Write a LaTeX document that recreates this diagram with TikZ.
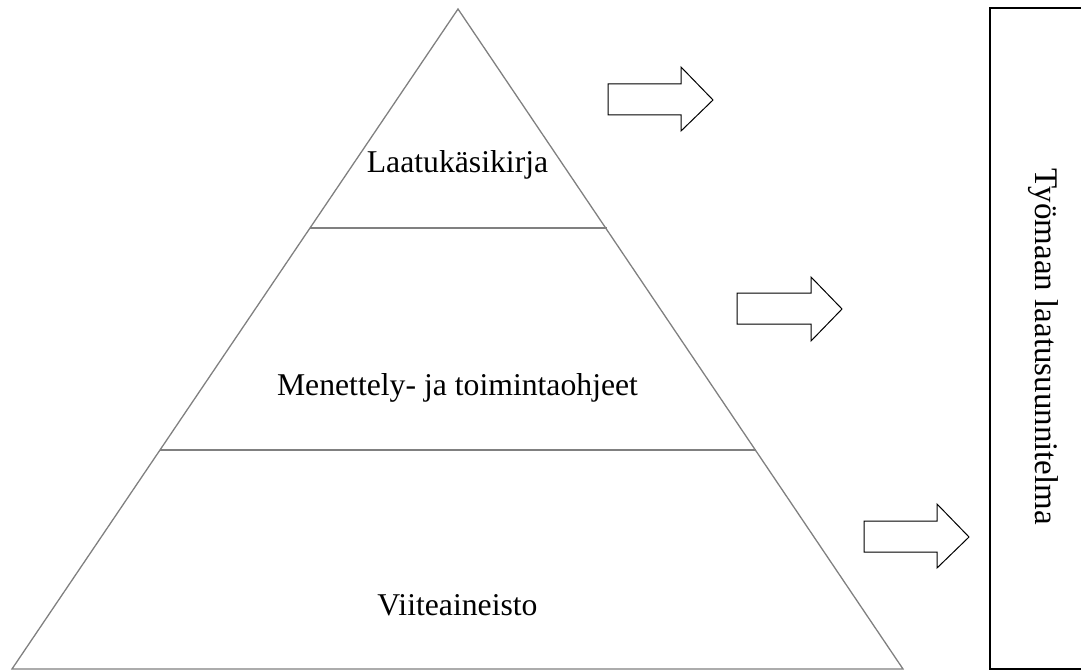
\documentclass[tikz,border=0pt]{standalone}
\usepackage{fontspec}
\setmainfont{Liberation Serif}
\begin{document}
\begin{tikzpicture}[x=1pt,y=-1pt,
  pyr/.style={draw=black!50,line width=1.3pt,line join=miter},
  sep/.style={draw=black!50,line width=1.3pt},
  blockarrow/.style={draw=black,line width=1pt,fill=white,line join=miter},
  lbl/.style={font=\fontsize{31.7}{36}\selectfont,anchor=base,inner sep=0pt},
  planbox/.style={draw=black,line width=2pt}]
\useasboundingbox (0,0) rectangle (1081,671);
\clip (0,0) rectangle (1081,671);
% pyramid
\coordinate (apex) at (458,9);
\coordinate (bl) at (12,669);
\coordinate (br) at (903,669);
\draw[pyr] (apex) -- (bl) -- (br) -- cycle;
\coordinate (l1) at (310,228); \coordinate (r1) at (607,228);
\coordinate (l2) at (160,450); \coordinate (r2) at (756,450);
\draw[sep] (l1) -- (r1);
\draw[sep] (l2) -- (r2);
\node[lbl] (top) at (457.5,173) {Laatukäsikirja};
\node[lbl] (mid) at (457.5,395) {Menettely- ja toimintaohjeet};
\node[lbl] (bot) at (457.5,615) {Viiteaineisto};
% block arrows
\draw[blockarrow] (608,84) -- (681,84) -- (681,67) -- (713,100) -- (681,131) -- (681,115) -- (608,115) -- cycle;
\draw[blockarrow] (737,293) -- (811,293) -- (811,277) -- (842,309) -- (811,341) -- (811,324) -- (737,324) -- cycle;
\draw[blockarrow] (864,521) -- (937,521) -- (937,504) -- (969,537) -- (937,568) -- (937,552) -- (864,552) -- cycle;
% plan box
\draw[planbox] (990,8) rectangle (1100,669);
\node[lbl,font=\fontsize{33}{38}\selectfont,rotate=-90] (plan) at (1035,347) {Työmaan laatusuunnitelma};
\end{tikzpicture}
\end{document}
